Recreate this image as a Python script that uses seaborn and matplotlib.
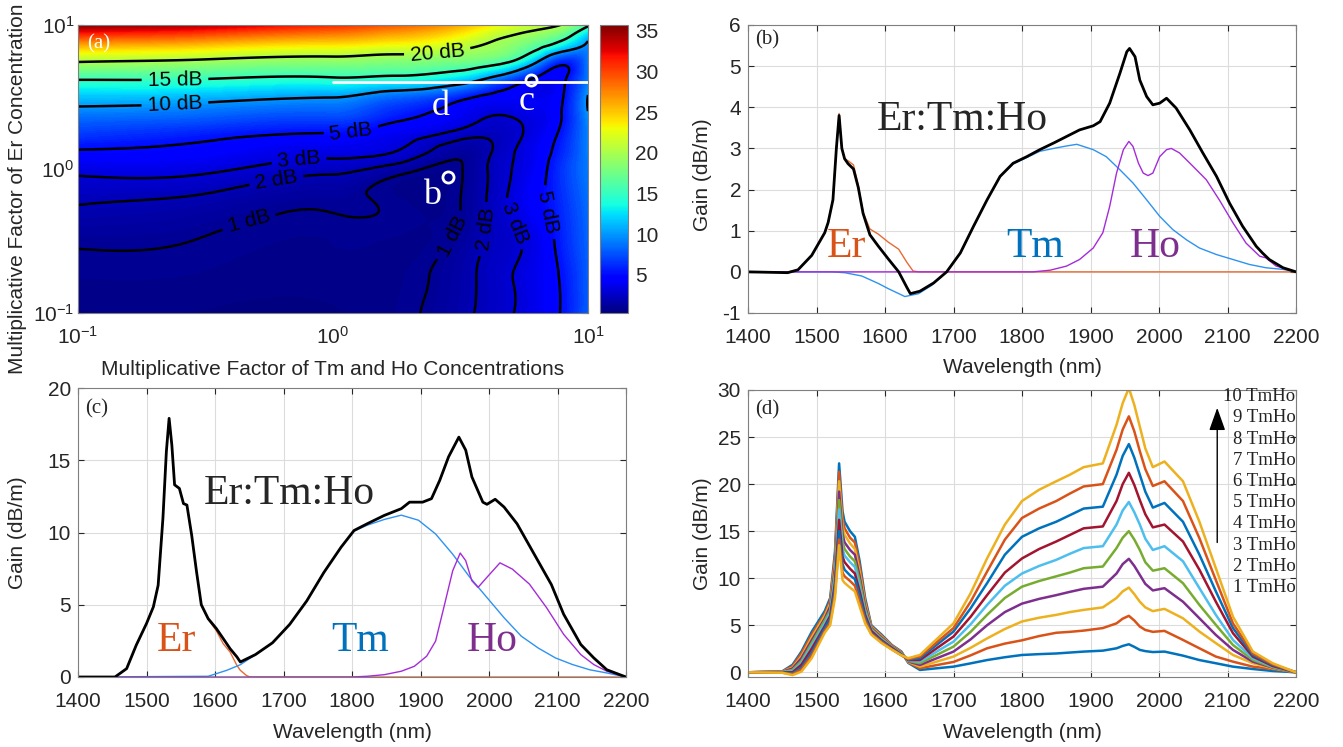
import numpy as np
import pandas as pd
import seaborn as sns
import matplotlib
matplotlib.use("Agg")
import matplotlib.pyplot as plt
import matplotlib.tri as mtri
from matplotlib.colors import Normalize
from matplotlib.ticker import NullFormatter

# ---------------- panel (a): gain map (log10 of factors) ----------------
tm_exp = [-1.0, -0.5, 0.0, 0.25, 0.5, 0.65, 0.8, 0.9, 1.0]
er_exp = [-1.0, -0.75, -0.5, -0.25, 0.0, 0.125, 0.25, 0.375, 0.5, 0.625, 0.75, 0.875, 1.0]
gain_map = [
    [0.5, 0.5, 0.5, 0.75, 1.7, 2.6, 3.8, 5.2, 8.0],
    [0.75, 0.7, 0.6, 0.7, 1.6, 2.6, 3.8, 5.3, 8.0],
    [1.1, 0.95, 0.75, 0.7, 1.25, 2.4, 3.7, 5.8, 8.2],
    [2.0, 1.6, 1.1, 0.85, 1.0, 2.6, 4.5, 6.2, 8.5],
    [3.4, 3.3, 2.3, 1.5, 0.95, 2.5, 4.2, 6.5, 9.0],
    [4.9, 4.4, 3.5, 3.0, 1.3, 2.3, 4.0, 6.0, 9.2],
    [6.8, 5.8, 5.0, 3.9, 2.6, 2.3, 3.6, 5.5, 9.3],
    [8.8, 8.2, 7.5, 5.7, 3.9, 3.0, 3.6, 5.1, 9.8],
    [11.5, 11.0, 10.1, 8.2, 5.8, 4.3, 3.8, 4.9, 10.1],
    [15.2, 15.0, 14.6, 14.0, 12.0, 8.5, 4.5, 4.6, 9.0],
    [20.3, 19.5, 18.8, 18.3, 17.7, 16.3, 10.5, 6.0, 9.0],
    [27.0, 26.0, 24.5, 23.5, 21.5, 19.5, 17.0, 14.0, 9.7],
    [35.5, 34.0, 31.0, 29.0, 26.0, 23.0, 21.0, 19.8, 15.5],
]
contour_levels = [1, 2, 3, 5, 10, 15, 20]
clabel_pos = [(2.56, 6.7), (0.24, 4.15), (0.24, 2.74), (1.18, 1.77), (0.74, 1.04),
              (0.61, 0.70), (0.48, 0.36), (2.76, 0.36), (3.99, 0.38), (4.94, 0.40), (6.74, 0.49)]
cut_line_x = [1, 10]
cut_line_y = [4.0, 4.0]
point_b = (2.83, 0.885)
point_c = (6.0, 4.15)

# ---------------- panel (b) ----------------
wl_b_er = [1400, 1458, 1473, 1493, 1512, 1517, 1524, 1529, 1533, 1537, 1541, 1546, 1554, 1561,
           1568, 1578, 1590, 1605, 1620, 1632, 1641, 1650, 2200]
er_b = [0, 0, 0.05, 0.4, 0.96, 1.2, 1.77, 3.0, 3.85, 3.0, 2.75, 2.7, 2.6, 2.1,
        1.45, 1.04, 0.92, 0.72, 0.55, 0.23, 0.02, 0, 0]
wl_b_tm = [1400, 1522, 1541, 1566, 1590, 1605, 1624, 1629, 1649, 1668, 1690, 1710, 1729, 1749,
           1768, 1787, 1807, 1826, 1846, 1865, 1880, 1904, 1923, 1943, 1962, 1982, 2001, 2020,
           2040, 2059, 2084, 2108, 2132, 2156, 2181, 2200]
tm_b = [0, 0, -0.02, -0.1, -0.28, -0.41, -0.56, -0.6, -0.53, -0.33, 0, 0.46, 1.1, 1.75,
        2.32, 2.62, 2.78, 2.93, 3.0, 3.06, 3.1, 2.97, 2.8, 2.48, 2.16, 1.75, 1.35, 1.03,
        0.78, 0.58, 0.42, 0.3, 0.18, 0.1, 0.06, 0]
wl_b_ho = [1400, 1816, 1841, 1865, 1884, 1904, 1918, 1928, 1938, 1948, 1956, 1962, 1970, 1977,
           1984, 1991, 2001, 2011, 2018, 2030, 2050, 2069, 2088, 2108, 2127, 2147, 2156, 2171, 2200]
ho_b = [0, 0, 0.04, 0.14, 0.3, 0.58, 0.95, 1.59, 2.4, 2.97, 3.17, 3.05, 2.64, 2.4,
        2.34, 2.4, 2.8, 2.97, 3.0, 2.89, 2.56, 2.24, 1.75, 1.19, 0.7, 0.38, 0.34, 0.14, 0]
wl_b_tot = [1400, 1458, 1473, 1493, 1512, 1517, 1524, 1529, 1533, 1537, 1541, 1546, 1554, 1561,
            1568, 1578, 1590, 1605, 1620, 1632, 1637, 1651, 1671, 1690, 1710, 1729, 1749, 1768,
            1787, 1807, 1826, 1846, 1865, 1884, 1904, 1914, 1928, 1943, 1953, 1957, 1965, 1972,
            1982, 1991, 2001, 2011, 2025, 2045, 2064, 2084, 2103, 2122, 2142, 2151, 2161, 2181, 2200]
tot_b = [0, -0.02, 0.05, 0.4, 0.95, 1.2, 1.75, 3.0, 3.8, 3.0, 2.75, 2.63, 2.5, 2.05,
         1.42, 0.9, 0.63, 0.31, 0, -0.38, -0.53, -0.47, -0.27, 0, 0.46, 1.1, 1.75, 2.32,
         2.64, 2.8, 2.97, 3.13, 3.29, 3.45, 3.55, 3.65, 4.1, 4.83, 5.35, 5.43, 5.23, 4.66,
         4.26, 4.06, 4.1, 4.22, 3.98, 3.45, 2.89, 2.32, 1.67, 1.11, 0.62, 0.46, 0.3, 0.1, 0]

# ---------------- panel (c) ----------------
wl_c_er = [1400, 1454, 1471, 1485, 1500, 1510, 1517, 1524, 1529, 1533, 1537, 1541, 1548, 1554,
           1559, 1566, 1573, 1580, 1590, 1602, 1612, 1622, 1632, 1637, 1646, 1651, 2200]
er_c = [0, 0, 0.58, 2.2, 3.7, 4.85, 6.35, 11.0, 15.6, 17.9, 16.05, 13.3, 13.05, 12.0,
        11.9, 9.8, 7.3, 5.0, 4.0, 3.2, 2.3, 1.73, 0.8, 0.46, 0.1, 0, 0]
wl_c_tm = [1400, 1590, 1617, 1637, 1656, 1684, 1709, 1734, 1759, 1784, 1803, 1822, 1847, 1872,
           1897, 1922, 1947, 1972, 1997, 2022, 2047, 2072, 2097, 2122, 2147, 2172, 2200]
tm_c = [0, 0.05, 0.46, 0.85, 1.45, 2.37, 3.64, 5.27, 7.24, 8.98, 10.1, 10.5, 10.9, 11.2,
        10.85, 9.9, 8.5, 6.9, 5.5, 4.1, 2.83, 2.0, 1.32, 0.86, 0.5, 0.28, 0]
wl_c_ho = [1400, 1800, 1822, 1847, 1872, 1891, 1909, 1922, 1934, 1947, 1958, 1966, 1975, 1984,
           1997, 2016, 2034, 2059, 2084, 2109, 2134, 2153, 2172, 2200]
ho_c = [0, 0, 0.05, 0.16, 0.4, 0.74, 1.44, 2.48, 4.8, 7.35, 8.58, 8.05, 6.66, 6.2,
        6.9, 7.9, 7.47, 6.43, 4.8, 2.95, 1.55, 0.86, 0.4, 0]
wl_c_tot = [1400, 1454, 1471, 1485, 1500, 1510, 1517, 1524, 1529, 1533, 1537, 1541, 1548, 1554,
            1559, 1566, 1573, 1580, 1590, 1602, 1612, 1622, 1632, 1637, 1659, 1684, 1709, 1734,
            1759, 1784, 1803, 1822, 1847, 1872, 1884, 1903, 1916, 1928, 1941, 1956, 1966, 1975,
            1991, 1997, 2009, 2022, 2041, 2066, 2091, 2109, 2134, 2153, 2172, 2191, 2200]
tot_c = [0, 0, 0.58, 2.2, 3.7, 4.85, 6.35, 11.0, 15.6, 17.9, 16.05, 13.3, 13.05, 12.0,
         11.9, 9.8, 7.3, 5.0, 4.04, 3.35, 2.66, 1.96, 1.39, 1.04, 1.55, 2.37, 3.64, 5.27,
         7.24, 8.98, 10.14, 10.6, 11.18, 11.65, 12.1, 12.1, 12.34, 13.6, 15.24, 16.6, 15.7, 13.85,
         12.1, 11.95, 12.3, 11.76, 10.6, 8.5, 6.4, 4.34, 2.25, 1.32, 0.5, 0.16, 0]

# ---------------- panel (d): 1..10 x TmHo ----------------
wl_d = [1400, 1450, 1465, 1478, 1493, 1512, 1520, 1527, 1533, 1538, 1541, 1549, 1556, 1563,
        1571, 1580, 1595, 1610, 1624, 1634, 1651, 1700, 1725, 1749, 1775, 1800, 1825, 1850,
        1870, 1890, 1918, 1938, 1947, 1956, 1964, 1972, 1980, 1991, 2008, 2035, 2059, 2083,
        2108, 2137, 2166, 2200]
gain_1 = [0, 0.1, 0.8, 2.2, 4.3, 6.5, 7.9, 12.8, 22.2, 17.1, 16.0, 15.0, 14.4, 11.8,
          7.9, 5.0, 4.0, 2.9, 2.2, 1.0, 0.25, 0.6, 0.95, 1.3, 1.6, 1.84, 1.93, 2.0,
          2.1, 2.2, 2.3, 2.55, 2.8, 2.98, 2.7, 2.38, 2.25, 2.15, 2.2, 1.77, 1.3, 0.96,
          0.6, 0.35, 0.14, 0]
gain_2 = [0, 0.08, 0.65, 2.0, 4.0, 6.2, 7.6, 12.3, 21.3, 16.3, 15.3, 14.3, 13.8, 11.3,
          7.6, 4.9, 3.9, 2.85, 2.15, 1.05, 0.43, 1.1, 1.8, 2.55, 3.05, 3.4, 3.85, 4.2,
          4.3, 4.43, 4.7, 5.2, 5.7, 6.0, 5.5, 4.86, 4.5, 4.3, 4.4, 3.44, 2.55, 1.67,
          1.13, 0.6, 0.35, 0]
gain_3 = [0, 0.06, 0.5, 1.7, 3.7, 6.0, 7.3, 11.7, 20.3, 15.5, 14.6, 13.7, 13.1, 10.7,
          7.3, 4.8, 3.8, 2.8, 2.1, 1.1, 0.6, 1.67, 2.6, 3.6, 4.6, 5.4, 5.8, 6.1,
          6.4, 6.63, 6.9, 7.9, 8.6, 9.0, 8.3, 7.5, 6.9, 6.5, 6.74, 5.74, 4.33, 3.1,
          1.84, 0.96, 0.43, 0]
gain_4 = [0, 0.05, 0.4, 1.5, 3.4, 5.7, 7.0, 11.2, 19.2, 14.7, 13.8, 13.0, 12.5, 10.2,
          7.0, 4.7, 3.7, 2.75, 2.05, 1.15, 0.78, 2.2, 3.5, 5.0, 6.4, 7.3, 7.8, 8.2,
          8.55, 8.87, 9.1, 10.5, 11.5, 12.06, 11.3, 10.35, 9.4, 8.7, 8.94, 7.5, 5.74, 3.97,
          2.38, 1.13, 0.5, 0]
gain_5 = [0, 0.03, 0.25, 1.2, 3.1, 5.5, 6.6, 10.6, 18.3, 13.9, 13.1, 12.3, 11.8, 9.7,
          6.7, 4.6, 3.6, 2.7, 2.0, 1.2, 0.96, 2.73, 4.3, 6.1, 7.9, 9.1, 9.7, 10.2,
          10.6, 11.06, 11.24, 13.2, 14.3, 15.0, 14.1, 13.0, 11.7, 10.8, 11.06, 9.47, 7.16, 5.04,
          2.9, 1.31, 0.53, 0]
gain_6 = [0, 0.02, 0.1, 1.0, 2.8, 5.2, 6.3, 10.1, 17.3, 13.1, 12.4, 11.7, 11.2, 9.1,
          6.4, 4.5, 3.5, 2.65, 1.95, 1.25, 1.13, 3.26, 5.1, 7.16, 9.2, 10.5, 11.3, 11.95,
          12.6, 13.2, 13.4, 15.7, 17.2, 18.1, 17.0, 15.7, 14.2, 13.0, 13.4, 11.8, 8.94, 6.1,
          3.44, 1.49, 0.6, 0]
gain_7 = [0, 0, 0.0, 0.8, 2.5, 4.9, 6.0, 9.5, 16.2, 12.3, 11.7, 11.0, 10.5, 8.6,
          6.1, 4.4, 3.4, 2.6, 1.9, 1.3, 1.31, 3.8, 5.9, 8.2, 10.6, 12.1, 13.1, 13.9,
          14.6, 15.3, 15.5, 18.2, 20.0, 21.2, 19.9, 18.3, 16.8, 15.4, 15.7, 13.9, 10.9, 7.5,
          4.15, 1.67, 0.67, 0]
gain_8 = [0, -0.02, -0.1, 0.5, 2.1, 4.7, 5.7, 9.0, 15.0, 11.5, 10.9, 10.3, 9.9, 8.1,
          5.8, 4.2, 3.3, 2.5, 1.85, 1.35, 1.5, 4.33, 6.8, 9.47, 12.5, 14.4, 15.3, 16.0,
          16.7, 17.4, 17.6, 21.0, 23.0, 24.25, 22.8, 21.0, 19.2, 17.5, 18.0, 16.0, 12.5, 8.6,
          4.7, 1.84, 0.78, 0]
gain_9 = [0, -0.04, -0.2, 0.3, 1.8, 4.4, 5.3, 8.4, 14.1, 10.6, 10.2, 9.7, 9.2, 7.5,
          5.5, 4.1, 3.2, 2.45, 1.8, 1.4, 1.67, 4.7, 7.5, 10.7, 14.1, 16.4, 17.4, 18.2,
          19.0, 19.75, 20.0, 23.65, 25.8, 27.2, 25.6, 23.5, 21.6, 19.8, 20.3, 18.2, 14.25, 9.8,
          5.2, 2.0, 0.85, 0]
gain_10 = [0, -0.05, -0.3, 0.07, 1.5, 4.2, 5.0, 7.9, 13.5, 9.8, 9.5, 9.0, 8.6, 7.0,
           5.2, 4.0, 3.1, 2.4, 1.8, 1.5, 1.84, 5.2, 8.4, 12.1, 15.7, 18.2, 19.4, 20.3,
           21.0, 21.8, 22.2, 26.3, 28.6, 30.2, 28.4, 26.1, 23.8, 21.8, 22.4, 20.3, 16.0, 11.06,
           5.9, 2.2, 0.96, 0]
tmho_labels = ["1 TmHo", "2 TmHo", "3 TmHo", "4 TmHo", "5 TmHo",
               "6 TmHo", "7 TmHo", "8 TmHo", "9 TmHo", "10 TmHo"]

# ---------------- styling ----------------
sns.set_style("ticks")
plt.rcParams["font.family"] = ["Liberation Sans", "DejaVu Sans"]
plt.rcParams["mathtext.fontset"] = "custom"
plt.rcParams["mathtext.rm"] = "Liberation Sans"
plt.rcParams["mathtext.it"] = "Liberation Sans:italic"
plt.rcParams["axes.unicode_minus"] = False

AX_COL = "#262626"
SERIF = ["Liberation Serif", "DejaVu Serif"]
matlab = ["#0072BD", "#D95319", "#EDB120", "#7E2F8E", "#77AC30", "#4DBEEE", "#A2142F"]
ER_LINE, TM_LINE, HO_LINE = "#E86A33", "#2E93F0", "#A52BD9"
ER_TXT, TM_TXT, HO_TXT = "#D95319", "#0072BD", "#7E2F8E"

W, H = 1343, 747
fig = plt.figure(figsize=(W / 100, H / 100), dpi=100)


def px_axes(x0, y0, x1, y1):
    return fig.add_axes([x0 / W, 1 - y1 / H, (x1 - x0) / W, (y1 - y0) / H])


def matlab_look(ax, grid=True):
    for s in ax.spines.values():
        s.set_color("#7f7f7f")
        s.set_linewidth(0.8)
    ax.tick_params(direction="in", which="both", top=True, right=True, length=4,
                   color=AX_COL, labelcolor=AX_COL, labelsize=15)
    ax.tick_params(axis="x", pad=11)
    ax.tick_params(axis="y", pad=5)
    if grid:
        ax.grid(True, color="#dcdcdc", linewidth=0.8)
        ax.set_axisbelow(True)


# ---- (a) ----
ax_a = px_axes(78, 25, 588, 313)
cax = px_axes(600, 25, 628, 313)
ax_a.set_xscale("log")
ax_a.set_yscale("log")
ax_a.set_xlim(0.1, 10)
ax_a.set_ylim(0.1, 10)

gx, gy = np.meshgrid(tm_exp, er_exp)
gz = np.array(gain_map)
tri = mtri.Triangulation(gx.ravel(), gy.ravel())
interp = mtri.CubicTriInterpolator(tri, gz.ravel(), kind="min_E")
tri_f, z_f = mtri.UniformTriRefiner(tri).refine_field(gz.ravel(), triinterpolator=interp, subdiv=4)
tri_log = mtri.Triangulation(10 ** tri_f.x, 10 ** tri_f.y, tri_f.triangles)

ax_a.tricontourf(tri_log, z_f, levels=np.linspace(0.3, 35.7, 160), cmap="jet", extend="both")
cs = ax_a.tricontour(tri_log, z_f, levels=contour_levels, colors="k", linewidths=1.8)
ax_a.clabel(cs, fmt="%d dB", manual=clabel_pos, inline=True, fontsize=15, inline_spacing=6)

ax_a.plot(cut_line_x, cut_line_y, color="white", lw=2)
ax_a.plot(*point_c, "o", mfc="none", mec="white", ms=8, mew=2)
ax_a.plot(*point_b, "o", mfc="none", mec="white", ms=8, mew=2)
ax_a.text(2.64, 2.37, "d", color="white", fontsize=26, family=SERIF, ha="center", va="baseline")
ax_a.text(5.77, 2.57, "c", color="white", fontsize=26, family=SERIF, ha="center", va="baseline")
ax_a.text(2.44, 0.57, "b", color="white", fontsize=26, family=SERIF, ha="center", va="baseline")
ax_a.text(0.018, 0.935, "(a)", color="white", fontsize=15, family=SERIF, transform=ax_a.transAxes,
          va="center")
matlab_look(ax_a, grid=False)
ax_a.grid(True, which="major", color="k", alpha=0.15, linewidth=0.8)
ax_a.xaxis.set_minor_formatter(NullFormatter())
ax_a.yaxis.set_minor_formatter(NullFormatter())
ax_a.tick_params(axis="x", pad=9)
ax_a.tick_params(axis="y", pad=2.5)
ax_a.set_xlabel("Multiplicative Factor of Tm and Ho Concentrations", fontsize=15, color=AX_COL)
ax_a.set_ylabel("Multiplicative Factor of Er Concentration", fontsize=15, color=AX_COL)
ax_a.xaxis.set_label_coords(0.5, -0.163)
ax_a.yaxis.set_label_coords(-0.1, 0.43)

sm = matplotlib.cm.ScalarMappable(norm=Normalize(0.3, 35.7), cmap="jet")
cb = fig.colorbar(sm, cax=cax, ticks=[5, 10, 15, 20, 25, 30, 35])
cb.outline.set_edgecolor("#7f7f7f")
cax.tick_params(direction="in", length=3, labelsize=15, color=AX_COL, labelcolor=AX_COL, pad=5)


def species_panel(ax, er, tm, ho, tot, ylim, yticks, txt_y, tag, tag_y):
    sns.lineplot(x=er[0], y=er[1], ax=ax, color=ER_LINE, lw=1.0, estimator=None)
    sns.lineplot(x=tm[0], y=tm[1], ax=ax, color=TM_LINE, lw=1.0, estimator=None)
    sns.lineplot(x=ho[0], y=ho[1], ax=ax, color=HO_LINE, lw=1.0, estimator=None)
    sns.lineplot(x=tot[0], y=tot[1], ax=ax, color="black", lw=2.0, estimator=None)
    ax.set_xlim(1400, 2200)
    ax.set_ylim(*ylim)
    ax.set_xticks(range(1400, 2201, 100))
    ax.set_yticks(yticks)
    matlab_look(ax)
    ax.set_xlabel("Wavelength (nm)", fontsize=15, color=AX_COL)
    ax.set_ylabel("Gain (dB/m)", fontsize=15, color=AX_COL)
    ax.text(0.013, tag_y, tag, fontsize=15, family=SERIF, transform=ax.transAxes, va="center")
    ax.text(txt_y[0][0], txt_y[0][1], "Er:Tm:Ho", fontsize=30, family=SERIF, va="baseline")
    for (x, y), s, c in zip(txt_y[1:], ["Er", "Tm", "Ho"], [ER_TXT, TM_TXT, HO_TXT]):
        ax.text(x, y, s, fontsize=30, family=SERIF, color=c, va="baseline")


# ---- (b) ----
ax_b = px_axes(748, 25, 1296, 313)
species_panel(ax_b, (wl_b_er, er_b), (wl_b_tm, tm_b), (wl_b_ho, ho_b), (wl_b_tot, tot_b),
              (-1, 6), range(-1, 7), [(1588, 3.45), (1515, 0.36), (1777, 0.36), (1957, 0.36)],
              "(b)", 0.948)
ax_b.xaxis.set_label_coords(0.5, -0.155)
ax_b.yaxis.set_label_coords(-0.066, 0.48)

# ---- (c) ----
ax_c = px_axes(78, 388, 626, 677)
species_panel(ax_c, (wl_c_er, er_c), (wl_c_tm, tm_c), (wl_c_ho, ho_c), (wl_c_tot, tot_c),
              (0, 20), range(0, 21, 5), [(1584, 11.96), (1515, 1.78), (1769, 1.78), (1968, 1.78)],
              "(c)", 0.929)
ax_c.xaxis.set_label_coords(0.5, -0.16)
ax_c.yaxis.set_label_coords(-0.093, 0.5)

# ---- (d) ----
ax_d = px_axes(748, 390, 1296, 677)
curves = [gain_1, gain_2, gain_3, gain_4, gain_5, gain_6, gain_7, gain_8, gain_9, gain_10]
df_d = pd.DataFrame({
    "wavelength": np.tile(wl_d, len(curves)),
    "gain": np.concatenate(curves),
    "curve": np.repeat(tmho_labels, len(wl_d)),
})
pal_d = [matlab[i % 7] for i in range(10)]
sns.lineplot(data=df_d, x="wavelength", y="gain", hue="curve", hue_order=tmho_labels,
             palette=pal_d, ax=ax_d, lw=1.8, legend=False, estimator=None)
ax_d.set_xlim(1400, 2200)
ax_d.set_ylim(-0.5, 30)
ax_d.set_xticks(range(1400, 2201, 100))
ax_d.set_yticks(range(0, 31, 5))
matlab_look(ax_d)
ax_d.set_xlabel("Wavelength (nm)", fontsize=15, color=AX_COL)
ax_d.set_ylabel("Gain (dB/m)", fontsize=15, color=AX_COL)
ax_d.xaxis.set_label_coords(0.5, -0.16)
ax_d.yaxis.set_label_coords(-0.066, 0.5)
ax_d.text(0.013, 0.93, "(d)", fontsize=15, family=SERIF, transform=ax_d.transAxes, va="center")
label_y = np.linspace(9.0, 29.3, 10)
for yy, s in zip(label_y, tmho_labels):
    ax_d.text(2199, yy, s, fontsize=13.5, family=SERIF, ha="right", va="center", color="#222222")
ax_d.annotate("", xy=(2085, 28.4), xytext=(2085, 13.5),
              arrowprops=dict(arrowstyle="-|>,head_length=1.4,head_width=0.5", color="black", lw=1.0))

fig.savefig("out.png", dpi=100)
